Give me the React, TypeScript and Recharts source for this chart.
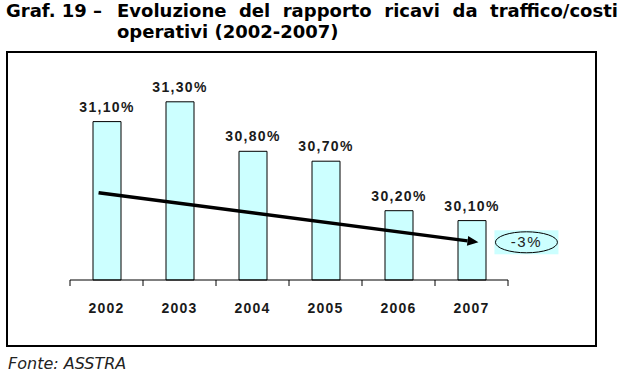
import { BarChart, Bar, XAxis, YAxis, LabelList, ReferenceLine } from 'recharts'

const YEARS = ['2002', '2003', '2004', '2005', '2006', '2007']
const RAPPORTO = [31.1, 31.3, 30.8, 30.7, 30.2, 30.1]
// trend arrow, read at first and last category
const TREND_START = 30.37
const TREND_END = 29.89
const TREND_LABEL = '-3%'
const Y_DOMAIN = [29.5, 31.5]
const BOUNDARY_TICKS = [0, 1, 2, 3, 4, 5, 6]

const data = YEARS.map((year, i) => ({ year, value: RAPPORTO[i], pos: i + 0.5 }))

const CYAN = '#ccffff'
const fmtPct = (v: number) => v.toFixed(2).replace('.', ',') + '%'
const TITLE_REST = 'Evoluzione del rapporto ricavi da traffico/costi'

function TrendArrow(props: any) {
  const { x1, y1, x2, y2 } = props
  if ([x1, y1, x2, y2].some(v => typeof v !== 'number')) return null
  const len = Math.hypot(x2 - x1, y2 - y1)
  const ux = (x2 - x1) / len
  const uy = (y2 - y1) / len
  const sx = x1 - ux * 8, sy = y1 - uy * 8
  const tx = x2 + ux * 7, ty = y2 + uy * 7
  const bx = tx - ux * 11, by = ty - uy * 11
  const px = -uy * 5, py = ux * 5
  const cx = tx + 48, cy = ty
  return (
    <g>
      <line x1={sx} y1={sy} x2={bx} y2={by} stroke="#000" strokeWidth={3.5} />
      <polygon points={`${tx},${ty} ${bx + px},${by + py} ${bx - px},${by - py}`} fill="#000" />
      <rect x={cx - 32} y={cy - 12} width={64} height={24} fill={CYAN} />
      <ellipse cx={cx} cy={cy} rx={31} ry={10.5} fill={CYAN} stroke="#000" strokeWidth={1} />
      <text x={cx} y={cy + 5} textAnchor="middle" fontFamily="'Liberation Sans', Arial, sans-serif"
        fontSize={15} letterSpacing={1.5} fill="#222">{TREND_LABEL}</text>
    </g>
  )
}

const titleFont = {
  fontFamily: "'DejaVu Sans', Verdana, sans-serif", fontWeight: 700, fontSize: 18, color: '#000',
} as const

export default function App() {
  return (
    <div style={{ position: 'relative', width: 631, height: 374, background: '#fff', overflow: 'hidden' }}>
      <style>{`body{margin:0}`}</style>
      <div style={{ ...titleFont, position: 'absolute', left: 6, top: 0, whiteSpace: 'nowrap' }}>Graf. 19 –</div>
      <div style={{
        ...titleFont, position: 'absolute', left: 117, top: 0, width: 501, whiteSpace: 'nowrap',
        display: 'flex', justifyContent: 'space-between',
      }}>
        {TITLE_REST.split(' ').map((w, i) => (
          <span key={i}>{w}</span>
        ))}
      </div>
      <div style={{ ...titleFont, position: 'absolute', left: 117, top: 21 }}>operativi (2002-2007)</div>

      <div style={{
        position: 'absolute', left: 6, top: 51, width: 587, height: 292,
        border: '2px solid #000',
      }} />

      <div style={{ position: 'absolute', left: 0, top: 0 }}>
        <BarChart width={631} height={374} data={data}
          margin={{ top: 82, right: 123, left: 70, bottom: 58 }}>
          <XAxis xAxisId="a" dataKey="pos" type="number" domain={[0, 6]} ticks={BOUNDARY_TICKS}
            height={6} stroke="#000" tickSize={6} tickFormatter={() => ''}
            axisLine={{ stroke: '#000', strokeWidth: 1 }} tickLine={{ stroke: '#000' }} />
          <XAxis xAxisId="c" dataKey="year" height={30} axisLine={false} tickLine={false} tickSize={0} tickMargin={17}
            tick={{ fill: '#1a1a1a', fontSize: 14, fontWeight: 700, fontFamily: "'Liberation Sans', Arial, sans-serif", letterSpacing: 1.2 }} />
          <YAxis hide domain={Y_DOMAIN} />
          <Bar xAxisId="c" dataKey="value" fill={CYAN} stroke="#000" strokeWidth={1} barSize={28} isAnimationActive={false}>
            <LabelList dataKey="value" position="top" offset={10} formatter={(v: any) => fmtPct(Number(v))}
              style={{ fill: '#1a1a1a', fontSize: 14, fontWeight: 700, fontFamily: "'Liberation Sans', Arial, sans-serif", letterSpacing: 1.3 }} />
          </Bar>
          <ReferenceLine xAxisId="c" segment={[{ x: YEARS[0], y: TREND_START }, { x: YEARS[YEARS.length - 1], y: TREND_END }]}
            shape={TrendArrow} />
        </BarChart>
      </div>

      <div style={{
        position: 'absolute', left: 8, top: 354,
        fontFamily: "'DejaVu Sans', Verdana, sans-serif", fontStyle: 'italic', fontSize: 16, color: '#222',
      }}>Fonte: ASSTRA</div>
    </div>
  )
}
